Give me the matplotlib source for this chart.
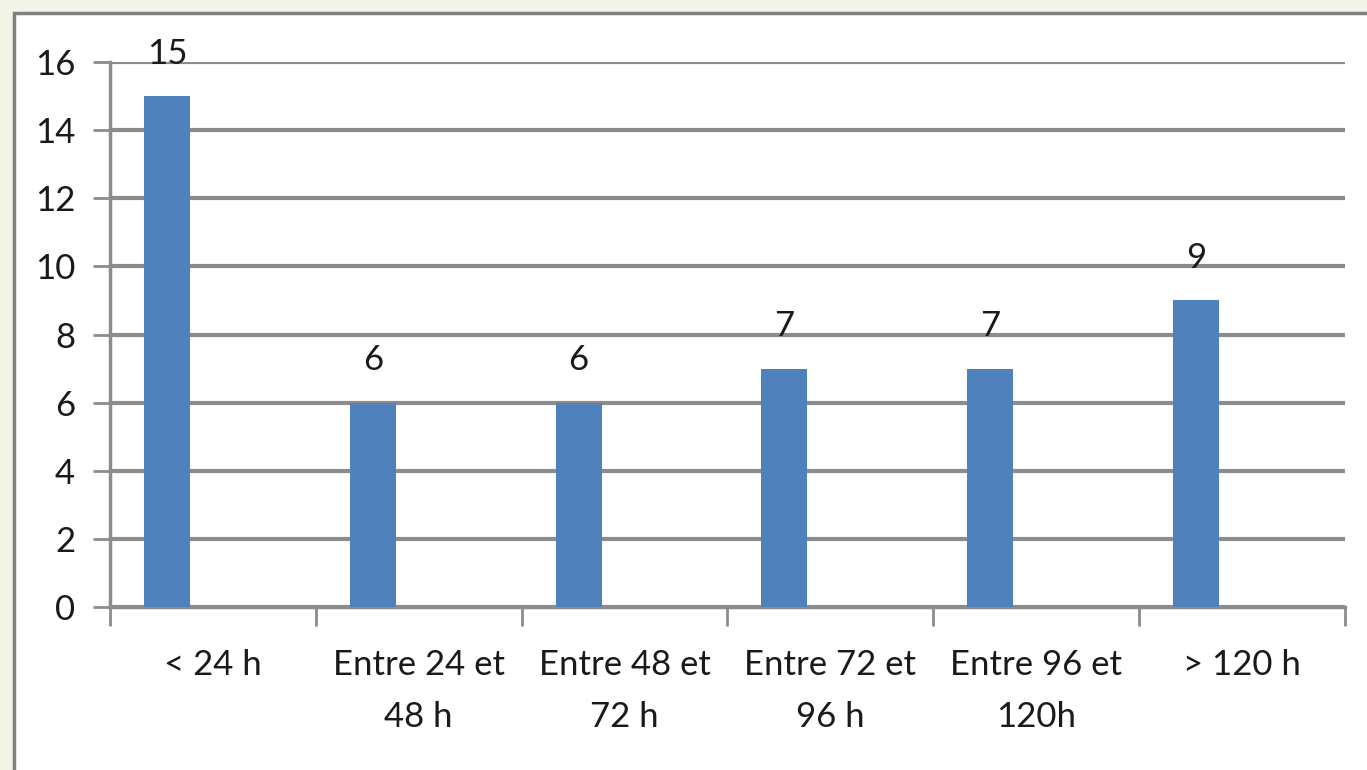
import matplotlib
matplotlib.use("Agg")
import matplotlib.pyplot as plt
from matplotlib.patches import Rectangle
import numpy as np

categories = ["< 24 h", "Entre 24 et\n48 h", "Entre 48 et\n72 h", "Entre 72 et\n96 h", "Entre 96 et\n120h", "> 120 h"]
values = [15, 6, 6, 7, 7, 9]
yticks = [0, 2, 4, 6, 8, 10, 12, 14, 16]

plt.rcParams['font.family'] = ['Lato', 'DejaVu Sans']
W, H = 1367, 770
fig = plt.figure(figsize=(W/100, H/100), dpi=100)
fig.patch.set_facecolor('#f3f3e7')
fig.patches.append(Rectangle((14/W, -0.05), 1.1, 1 - 13/H + 0.05, transform=fig.transFigure,
                             facecolor='white', edgecolor='#808080', linewidth=2.5, zorder=-10))

ax = fig.add_axes([110/W, 1-607/H, (1345-110)/W, (607-62)/H])
ax.set_zorder(5)
ax.set_facecolor('none')
gray = '#8c8c8c'
txt = '#1a1a1a'
fs = 25
x = np.arange(len(categories))
bw = 0.224
off = -0.2235
ax.bar(x + off, values, width=bw, color='#4f81bd', zorder=3)
for xi, v in zip(x, values):
    ax.annotate(str(v), (xi + off, v), xytext=(0, 19), textcoords='offset points',
                ha='center', va='bottom', fontsize=fs, color=txt)

ax.set_xlim(-0.5, len(categories) - 0.5)
ax.set_ylim(0, 16)
ax.set_yticks(yticks)
ax.set_yticklabels([str(t) for t in yticks], fontsize=fs, color=txt)
ax.yaxis.grid(True, color=gray, linewidth=3, zorder=1)
ax.set_axisbelow(True)
ax.tick_params(axis='y', length=12, width=2, color=gray, pad=13)
ax.set_xticks(np.arange(-0.5, len(categories), 1.0))
ax.set_xticklabels([])
ax.tick_params(axis='x', length=14, width=2, color=gray)
ax.set_xticks(x, minor=True)
ax.set_xticklabels(categories, minor=True, fontsize=fs, color=txt, linespacing=1.8)
ax.tick_params(axis='x', which='minor', length=0, pad=30)
for s in ['top', 'right']:
    ax.spines[s].set_visible(False)
for s in ['left', 'bottom']:
    ax.spines[s].set_color(gray)
    ax.spines[s].set_linewidth(2.5)

fig.savefig('out.png', dpi=100, facecolor=fig.get_facecolor())
